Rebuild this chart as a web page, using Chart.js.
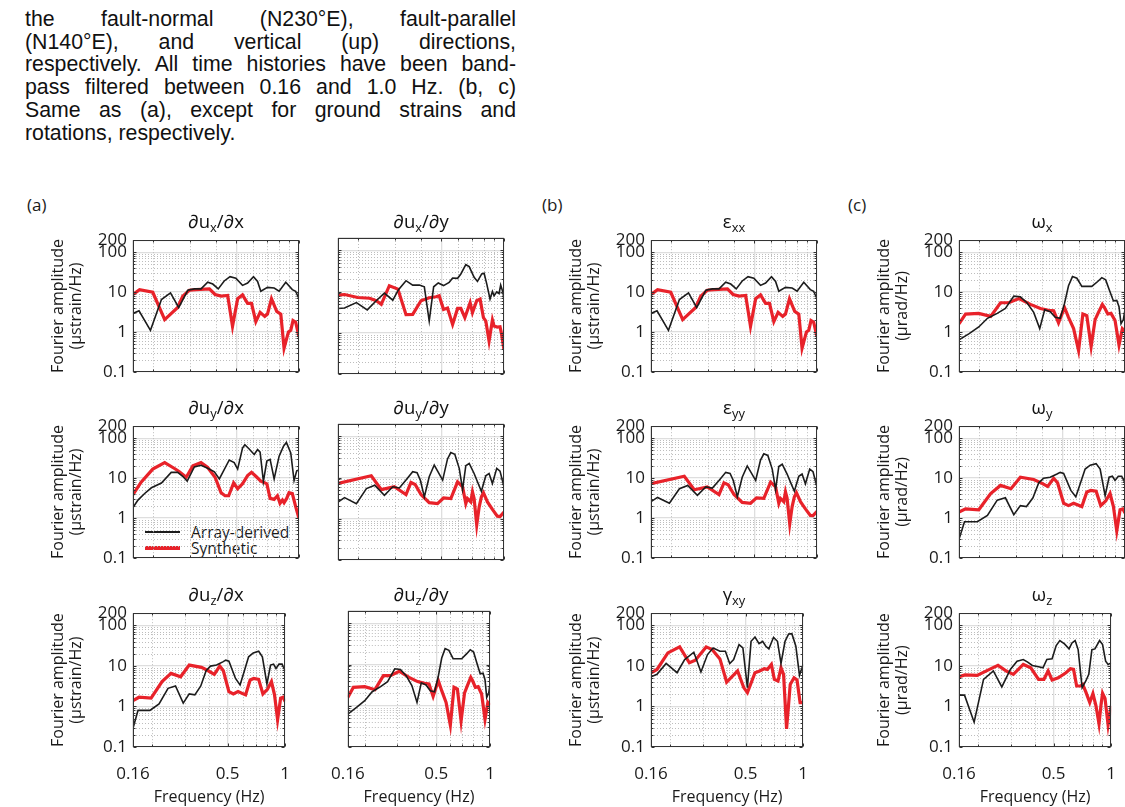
<!DOCTYPE html>
<html>
<head>
<meta charset="utf-8">
<script src="https://cdn.jsdelivr.net/npm/chart.js@4/dist/chart.umd.min.js"></script>
<style>
  body { margin: 0; width: 1125px; height: 807px; overflow: hidden; background: #fff; position: relative; font-family: 'Open Sans', sans-serif; font-weight: 500; color: #1a1a1a; }
  #caption { position: absolute; left: 25px; top: 8px; width: 491px; font: 400 21.3px/22.7px 'Liberation Sans', Arial, sans-serif; color: #111; }
  #caption div { text-align: justify; text-align-last: justify; }
  #caption div.last { text-align-last: left; }
  .letter { position: absolute; top: 194px; font-size: 17px; line-height: 22px; }
  .ptitle { position: absolute; text-align: center; font-size: 18.5px; line-height: 20px; color: #111; }
  .ptitle sub { font-size: 0.7em; vertical-align: -0.3em; line-height: 0; }
  #legend { position: absolute; left: 145px; top: 524px; font-size: 15.5px; color: #1a1a1a; }
  .lg-row { display: flex; align-items: center; height: 16px; line-height: 16px; }
  .lg-line { display: inline-block; width: 35px; margin-right: 11px; }
</style>
</head>
<body>
<div id="caption">
  <div>the fault-normal (N230°E), fault-parallel</div>
  <div>(N140°E), and vertical (up) directions,</div>
  <div>respectively. All time histories have been band-</div>
  <div>pass filtered between 0.16 and 1.0 Hz. (b, c)</div>
  <div>Same as (a), except for ground strains and</div>
  <div class="last">rotations, respectively.</div>
</div>
<div class="letter" style="left:27px">(a)</div>
<div class="letter" style="left:542px">(b)</div>
<div class="letter" style="left:848px">(c)</div>
<div id="legend"></div>

<script>
// axis ticks (log scales)
const xTicks = [0.16, 0.5, 1];
const yTicks = [0.1, 1, 10, 100, 200];
const xMinor = [0.2, 0.3, 0.4, 0.6, 0.7, 0.8, 0.9];
const yMinor = [0.2, 0.3, 0.4, 0.5, 0.6, 0.7, 0.8, 0.9, 2, 3, 4, 5, 6, 7, 8, 9, 20, 30, 40, 50, 60, 70, 80, 90];

// [frequency (Hz), Fourier amplitude]
// ∂ux/∂x (also εxx)
const uxxArray = [[0.16,2.9],[0.171,3.4],[0.194,1.1],[0.219,6.5],[0.242,9.5],[0.265,4.1],[0.293,11.1],[0.315,12],[0.339,12],[0.365,17.7],[0.386,15.9],[0.41,12],[0.438,19],[0.467,24.4],[0.498,22.2],[0.536,14.7],[0.567,16.8],[0.605,24.4],[0.633,18.4],[0.656,10.5],[0.706,13.1],[0.76,12.6],[0.803,10.5],[0.864,17.7],[0.929,11.5],[0.964,10.5],[1,6.8]];
const uxxSynth = [[0.16,8.7],[0.172,11.5],[0.199,9.9],[0.227,2.04],[0.262,4.1],[0.277,7.9],[0.298,11.1],[0.321,11.5],[0.372,12],[0.396,8.7],[0.423,7.9],[0.455,8.2],[0.48,1.38],[0.508,6.8],[0.536,8.5],[0.567,5.2],[0.592,5.2],[0.621,1.82],[0.651,3.09],[0.685,2.46],[0.706,2.8],[0.738,6.8],[0.782,3.27],[0.818,2.8],[0.848,0.39],[0.89,1.0],[0.913,1.1],[0.936,1.93],[0.964,1.76],[1,0.75]];
// ∂ux/∂y
const uxyArray = [[0.16,3.9],[0.172,4.0],[0.196,5.4],[0.221,3.6],[0.244,6.0],[0.267,9.2],[0.293,6.2],[0.312,11.1],[0.339,18.4],[0.365,14.4],[0.393,14.4],[0.415,13.1],[0.438,1.93],[0.46,13.1],[0.484,16.2],[0.513,14],[0.546,16.8],[0.567,21.4],[0.599,21],[0.621,26.8],[0.656,45],[0.681,40.5],[0.719,22.2],[0.746,17.7],[0.782,26.8],[0.803,27.8],[0.827,15.2],[0.857,6.6],[0.88,10.1],[0.896,7.9],[0.923,9.9],[0.947,9.0],[0.964,14.4],[0.989,9.5],[1,6.0]];
const uxySynth = [[0.16,8.2],[0.172,8.5],[0.199,7.2],[0.227,6.9],[0.244,6.0],[0.258,4.9],[0.282,13.9],[0.31,11.5],[0.339,2.76],[0.365,2.8],[0.4,6.0],[0.438,7.1],[0.472,7.5],[0.489,7.9],[0.513,3.7],[0.536,4.0],[0.567,1.6],[0.599,3.9],[0.621,3.9],[0.649,2.33],[0.688,5.4],[0.706,3.09],[0.74,6.0],[0.768,6.55],[0.797,2.33],[0.818,1.93],[0.848,0.63],[0.88,2.04],[0.896,1.46],[0.929,1.38],[0.957,1.4],[0.971,1.0],[1,0.39]];
// ∂uy/∂x
const uyxArray = [[0.16,1.82],[0.169,2.8],[0.182,4.1],[0.196,5.7],[0.219,7.5],[0.244,13.9],[0.262,13.9],[0.277,11.1],[0.291,8.4],[0.315,19.1],[0.339,21],[0.365,17.7],[0.393,14.4],[0.415,9.5],[0.463,28.4],[0.489,24.4],[0.508,16.8],[0.536,56.9],[0.55,68.7],[0.577,53.8],[0.61,39],[0.633,51.9],[0.651,44.7],[0.675,8.2],[0.701,26.8],[0.727,29.4],[0.76,9.5],[0.803,35.5],[0.842,62.6],[0.87,78.3],[0.913,42.8],[0.947,8.7],[0.975,15.2],[1,15.9]];
const uyxSynth = [[0.16,3.87],[0.175,7.9],[0.199,16.8],[0.227,24.4],[0.253,17.4],[0.267,14.4],[0.288,10.5],[0.31,20.2],[0.339,24.4],[0.365,18.4],[0.396,10.5],[0.423,4.3],[0.442,3.6],[0.46,3.6],[0.486,7.6],[0.508,5.4],[0.536,7.2],[0.567,11.5],[0.592,13.9],[0.621,11.1],[0.656,8.4],[0.675,7.9],[0.701,7.2],[0.727,3.09],[0.76,2.92],[0.788,3.6],[0.811,2.33],[0.833,2.8],[0.848,2.42],[0.873,3.09],[0.896,4.3],[0.929,4.1],[0.964,1.93],[1,0.96]];
// ∂uy/∂y (also εyy)
const uyyArray = [[0.16,2.56],[0.172,3.27],[0.196,2.33],[0.219,5.4],[0.24,6.55],[0.267,3.7],[0.293,6.0],[0.315,5.6],[0.339,8.7],[0.365,13.9],[0.383,13.1],[0.397,8.7],[0.415,3.4],[0.438,10.5],[0.463,20.2],[0.508,8.7],[0.536,28.4],[0.556,40.5],[0.581,36.9],[0.61,16.8],[0.633,5.2],[0.656,19.5],[0.681,22.2],[0.719,12.6],[0.746,7.9],[0.779,4.67],[0.818,11.1],[0.848,12.6],[0.88,7.2],[0.923,16.8],[0.957,14.4],[1,6.0]];
const uyySynth = [[0.16,7.2],[0.231,11.1],[0.258,5.1],[0.298,6.0],[0.339,3.87],[0.358,7.6],[0.375,6.8],[0.4,3.87],[0.438,2.46],[0.48,2.33],[0.513,3.2],[0.556,3.09],[0.599,7.9],[0.633,6.0],[0.656,2.33],[0.668,3.09],[0.693,2.56],[0.706,4.5],[0.719,3.09],[0.74,0.71],[0.76,1.93],[0.779,3.4],[0.797,4.3],[0.833,2.56],[0.88,1.69],[0.929,1.16],[0.957,1.14],[1,1.46]];
// ∂uz/∂x (also ωy)
const uzxArray = [[0.16,0.29],[0.17,0.8],[0.196,0.8],[0.219,1.16],[0.244,2.8],[0.267,3.2],[0.293,1.21],[0.315,2.04],[0.337,1.93],[0.362,3.2],[0.386,7.6],[0.407,9.9],[0.438,10.5],[0.472,12.6],[0.489,13.9],[0.508,13.1],[0.55,4.9],[0.581,3.4],[0.61,7.2],[0.644,16.8],[0.681,21],[0.727,23],[0.76,16.8],[0.803,3.6],[0.839,10.5],[0.87,11.1],[0.896,8.7],[0.929,11.1],[0.964,11.1],[1,7.6]];
const uzxSynth = [[0.16,1.4],[0.172,1.69],[0.199,1.6],[0.227,4.1],[0.253,6.55],[0.284,5.4],[0.315,10.5],[0.365,9.2],[0.396,7.6],[0.426,6.2],[0.455,9.9],[0.475,7.6],[0.508,2.33],[0.536,2.04],[0.567,2.33],[0.621,1.93],[0.656,4.5],[0.685,4.9],[0.727,4.67],[0.765,2.04],[0.808,2.66],[0.848,4.1],[0.88,1.93],[0.913,0.47],[0.947,1.6],[0.975,1.69],[1,1.33]];
// ∂uz/∂y (also ωx)
const uzyArray = [[0.16,0.63],[0.179,0.91],[0.199,1.33],[0.219,2.2],[0.244,2.92],[0.267,3.87],[0.293,7.9],[0.315,7.6],[0.339,5.4],[0.365,3.09],[0.39,1.21],[0.412,3.6],[0.438,3.2],[0.463,2.33],[0.489,2.2],[0.513,5.2],[0.536,14.4],[0.56,24.4],[0.588,22.2],[0.621,13.9],[0.693,13.9],[0.74,18.4],[0.774,23],[0.808,20.2],[0.842,11.1],[0.88,6.0],[0.913,6.2],[0.936,4.3],[0.957,1.6],[0.982,2.04],[1,3.6]];
const uzySynth = [[0.16,1.6],[0.172,2.81],[0.199,2.92],[0.227,2.46],[0.253,5.4],[0.277,5.4],[0.31,6.9],[0.352,4.9],[0.393,3.87],[0.43,3.5],[0.455,3.4],[0.48,1.69],[0.513,4.1],[0.536,2.33],[0.567,1.21],[0.599,0.34],[0.628,2.81],[0.656,2.56],[0.688,0.43],[0.719,2.04],[0.746,3.09],[0.779,4.9],[0.797,4.1],[0.827,2.81],[0.857,2.92],[0.896,1.93],[0.936,0.47],[0.971,1.21],[1,1.04]];
// γxy
const gxyArray = [[0.16,5.4],[0.172,6.2],[0.192,11.5],[0.219,6.8],[0.24,14.4],[0.268,21.8],[0.292,7.1],[0.316,19.1],[0.338,27.8],[0.367,23.1],[0.392,23.1],[0.413,11.5],[0.433,14.4],[0.462,33.6],[0.484,27.8],[0.511,2.92],[0.534,40.5],[0.56,51.8],[0.588,35.6],[0.614,40.5],[0.638,30.6],[0.662,26.3],[0.7,50.8],[0.734,40.5],[0.766,11.5],[0.804,40.5],[0.84,61.4],[0.873,62.6],[0.916,30.6],[0.957,5.85],[1,10.9]];
const gxySynth = [[0.16,6.8],[0.172,8.2],[0.196,21],[0.226,29.5],[0.254,12],[0.273,13.9],[0.311,29.5],[0.334,25.3],[0.367,14.9],[0.398,4.0],[0.454,7.5],[0.489,2.92],[0.511,2.2],[0.56,6.8],[0.592,7.5],[0.626,8.5],[0.65,8.2],[0.682,10.9],[0.707,4.67],[0.739,4.25],[0.766,9.0],[0.79,6.2],[0.819,0.28],[0.856,3.5],[0.896,5.1],[0.929,4.5],[0.964,1.25],[1,1.25]];
// ωz
const wzArray = [[0.16,1.9],[0.171,1.9],[0.192,0.41],[0.215,4.67],[0.242,7.5],[0.268,3.03],[0.297,8.2],[0.322,13.1],[0.347,14.4],[0.366,12.4],[0.387,10.3],[0.417,9.5],[0.44,9.0],[0.461,14.4],[0.491,15],[0.516,31.8],[0.539,42.3],[0.57,34.9],[0.602,26.3],[0.624,37],[0.648,42.3],[0.672,25.3],[0.705,2.92],[0.737,4.25],[0.764,6.2],[0.793,25.3],[0.823,26.3],[0.87,42.3],[0.902,33.6],[0.936,13.1],[0.964,10.9],[1,11.9]];
const wzSynth = [[0.16,5.4],[0.172,6],[0.199,5.85],[0.231,8.2],[0.256,10.3],[0.283,7.5],[0.308,6.2],[0.347,10.9],[0.38,9],[0.417,4.67],[0.445,4.67],[0.468,7.5],[0.491,4.5],[0.529,5.1],[0.58,6.8],[0.613,8.5],[0.636,8.2],[0.66,3.2],[0.691,3.2],[0.71,3.5],[0.737,2.29],[0.773,1.25],[0.803,2.08],[0.833,1.04],[0.864,0.37],[0.886,1.14],[0.902,2.12],[0.929,1.58],[0.964,0.35],[1,1.04]];

// grid of panels
const colLeft = [133, 338, 651, 959];
const rowTop = [238, 424, 611];
const boxW = 166, boxH = 136;

const panels = [
  { col: 0, row: 0, title: '∂u<sub>x</sub>/∂x', unit: 'µstrain', arr: uxxArray, syn: uxxSynth },
  { col: 0, row: 1, title: '∂u<sub>y</sub>/∂x', unit: 'µstrain', arr: uyxArray, syn: uyxSynth },
  { col: 0, row: 2, title: '∂u<sub>z</sub>/∂x', unit: 'µstrain', arr: uzxArray, syn: uzxSynth },
  { col: 1, row: 0, title: '∂u<sub>x</sub>/∂y', unit: 'µstrain', arr: uxyArray, syn: uxySynth },
  { col: 1, row: 1, title: '∂u<sub>y</sub>/∂y', unit: 'µstrain', arr: uyyArray, syn: uyySynth },
  { col: 1, row: 2, title: '∂u<sub>z</sub>/∂y', unit: 'µstrain', arr: uzyArray, syn: uzySynth },
  { col: 2, row: 0, title: 'ε<sub>xx</sub>', unit: 'µstrain', arr: uxxArray, syn: uxxSynth },
  { col: 2, row: 1, title: 'ε<sub>yy</sub>', unit: 'µstrain', arr: uyyArray, syn: uyySynth },
  { col: 2, row: 2, title: 'γ<sub>xy</sub>', unit: 'µstrain', arr: gxyArray, syn: gxySynth },
  { col: 3, row: 0, title: 'ω<sub>x</sub>', unit: 'µrad', arr: uzyArray, syn: uzySynth },
  { col: 3, row: 1, title: 'ω<sub>y</sub>', unit: 'µrad', arr: uzxArray, syn: uzxSynth },
  { col: 3, row: 2, title: 'ω<sub>z</sub>', unit: 'µrad', arr: wzArray, syn: wzSynth }
];

Chart.defaults.font.family = "'Open Sans', sans-serif";
Chart.defaults.font.weight = '500';
Chart.defaults.color = '#1a1a1a';

const toPoints = pairs => pairs.map(([f, a]) => ({ x: f, y: a }));

// dotted minor grid, box and inward ticks like a MATLAB axes
const matlabBox = {
  id: 'matlabBox',
  beforeDatasetsDraw(chart) {
    const { ctx, chartArea: a, scales: { x, y } } = chart;
    ctx.save();
    ctx.strokeStyle = '#bdbdbd';
    ctx.lineWidth = 1;
    ctx.setLineDash([1, 2]);
    ctx.beginPath();
    xMinor.forEach(v => {
      const px = Math.round(x.getPixelForValue(v)) + 0.5;
      ctx.moveTo(px, a.top); ctx.lineTo(px, a.bottom);
    });
    yMinor.forEach(v => {
      const py = Math.round(y.getPixelForValue(v)) + 0.5;
      ctx.moveTo(a.left, py); ctx.lineTo(a.right, py);
    });
    ctx.stroke();
    ctx.restore();
  },
  afterDatasetsDraw(chart) {
    const { ctx, chartArea: a, scales: { x, y } } = chart;
    const l = Math.round(a.left) + 0.5, r = Math.round(a.right) - 0.5;
    const t = Math.round(a.top) + 0.5, b = Math.round(a.bottom) - 0.5;
    ctx.save();
    ctx.strokeStyle = '#333';
    ctx.lineWidth = 1;
    ctx.beginPath();
    const xt = xTicks.map(v => [v, 3]).concat(xMinor.map(v => [v, 2]));
    const yt = yTicks.map(v => [v, 3]).concat(yMinor.map(v => [v, 2]));
    xt.forEach(([v, len]) => {
      const px = Math.round(x.getPixelForValue(v)) + 0.5;
      ctx.moveTo(px, b); ctx.lineTo(px, b - len);
      ctx.moveTo(px, t); ctx.lineTo(px, t + len);
    });
    yt.forEach(([v, len]) => {
      const py = Math.round(y.getPixelForValue(v)) + 0.5;
      ctx.moveTo(l, py); ctx.lineTo(l + len, py);
      ctx.moveTo(r, py); ctx.lineTo(r - len, py);
    });
    ctx.stroke();
    ctx.strokeRect(l, t, r - l, b - t);
    ctx.restore();
  }
};

function makePanel(p) {
  const left = colLeft[p.col], top = rowTop[p.row];
  const showY = p.col !== 1;
  const showX = p.row === 2;
  const padL = showY ? 93 : 24, padT = 14, padR = 8;
  const padB = showX ? 62 : 14;
  const W = padL + boxW + padR, H = padT + boxH + padB;

  const canvas = document.createElement('canvas');
  canvas.width = W; canvas.height = H;
  canvas.style.cssText = `position:absolute;left:${left - padL}px;top:${top - padT}px;width:${W}px;height:${H}px`;
  document.body.appendChild(canvas);

  const title = document.createElement('div');
  title.className = 'ptitle';
  title.style.cssText = `left:${left}px;top:${top - 27}px;width:${boxW}px`;
  title.innerHTML = p.title;
  document.body.appendChild(title);

  return new Chart(canvas, {
    type: 'line',
    data: {
      datasets: [
        { label: 'Array-derived', data: toPoints(p.arr), borderColor: '#1c1c1c', borderWidth: 1.6 },
        { label: 'Synthetic', data: toPoints(p.syn), borderColor: '#e8222a', borderWidth: 3.2 }
      ]
    },
    options: {
      responsive: false,
      animation: false,
      devicePixelRatio: 1,
      events: [],
      layout: { padding: { left: 0, top: padT, right: padR, bottom: 0 } },
      elements: { point: { radius: 0 }, line: { tension: 0 } },
      plugins: { legend: { display: false }, tooltip: { enabled: false } },
      scales: {
        x: {
          type: 'logarithmic', min: 0.16, max: 1,
          afterBuildTicks: s => { s.ticks = xTicks.map(v => ({ value: v })); },
          afterFit: s => { s.height = padB; },
          ticks: { display: showX, autoSkip: false, maxRotation: 0, padding: 17, font: { size: 17 }, callback: v => String(v) },
          grid: { color: '#dedede', lineWidth: 1.3, drawTicks: false },
          border: { display: false },
          title: { display: showX, text: 'Frequency (Hz)', font: { size: 16, lineHeight: 1.15 }, padding: { top: 0, bottom: 2 } }
        },
        y: {
          type: 'logarithmic', min: 0.1, max: 200,
          afterBuildTicks: s => { s.ticks = yTicks.map(v => ({ value: v })); },
          afterFit: s => { s.width = padL; },
          ticks: { display: showY, autoSkip: false, padding: 6, font: { size: 17 }, callback: v => String(v) },
          grid: { color: '#dedede', lineWidth: 1.3, drawTicks: false },
          border: { display: false },
          title: { display: showY, text: ['Fourier amplitude', `(${p.unit}/Hz)`], font: { size: 16, lineHeight: 1.15 }, padding: { top: 9, bottom: 0 } }
        }
      }
    },
    plugins: [matlabBox]
  });
}

const charts = panels.map(makePanel);

// legend sits inside the ∂uy/∂x panel
const legendBox = document.getElementById('legend');
charts[1].data.datasets.forEach(ds => {
  const row = document.createElement('div');
  row.className = 'lg-row';
  row.innerHTML = `<span class="lg-line" style="height:${ds.borderWidth}px;background:${ds.borderColor}"></span><span>${ds.label}</span>`;
  legendBox.appendChild(row);
});
</script>
</body>
</html>
